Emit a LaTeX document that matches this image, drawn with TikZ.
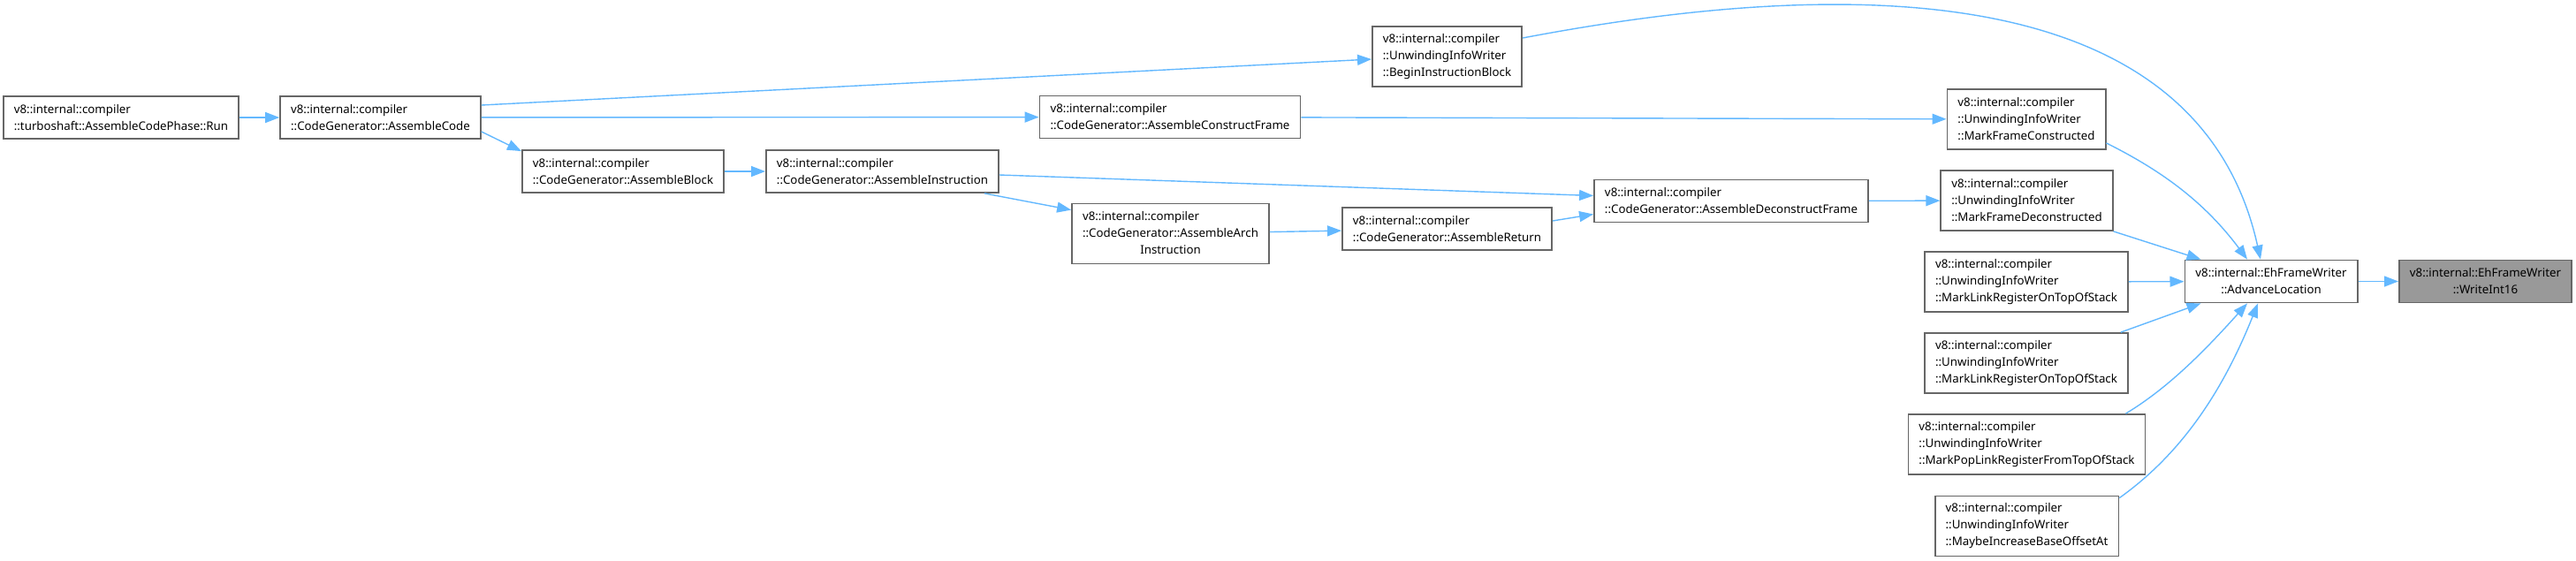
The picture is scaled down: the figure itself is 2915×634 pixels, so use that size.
\documentclass[tikz,border=0pt]{standalone}
\usepackage{fontspec}
\setmainfont{Noto Sans}
\usepackage{tikz}
\usetikzlibrary{arrows.meta, calc}
\definecolor{edgeBlue}{HTML}{63B8FF}
\definecolor{boxGrey}{HTML}{666666}
\definecolor{hiFill}{HTML}{999999}

\begin{document}
\begin{tikzpicture}[
  x=0.5pt, y=-0.5pt,
  fnBox/.style={rectangle, draw=boxGrey, fill=white, line width=0.9pt, font=\fontsize{6.65}{9.5}\selectfont, align=left, inner xsep=6pt, inner ysep=0pt, minimum height=24pt},
  fnBoxTall/.style={fnBox, minimum height=34pt},
  fnBoxHi/.style={fnBox, fill=hiFill, align=center},
  call/.style={draw=edgeBlue, line width=0.7pt, -{Triangle[length=8pt, width=6pt]}}
]
\useasboundingbox (0,0) rectangle (2915,634);
\node[fnBox] (run) at (137,133) {v8::internal::compiler\\::turboshaft::AssembleCodePhase::Run};
\node[fnBox] (code) at (430.5,133) {v8::internal::compiler\\::CodeGenerator::AssembleCode};
\node[fnBox] (block) at (705,194) {v8::internal::compiler\\::CodeGenerator::AssembleBlock};
\node[fnBox] (instr) at (998.5,194) {v8::internal::compiler\\::CodeGenerator::AssembleInstruction};
\node[fnBoxTall] (begin) at (1637.5,64) {v8::internal::compiler\\::UnwindingInfoWriter\\::BeginInstructionBlock};
\node[fnBox] (construct) at (1324,132.5) {v8::internal::compiler\\::CodeGenerator::AssembleConstructFrame};
\node[fnBoxTall] (arch) at (1324.5,264.5) {\begin{tabular}{@{}l@{}}v8::internal::compiler\\::CodeGenerator::AssembleArch\\\multicolumn{1}{@{}c@{}}{Instruction}\end{tabular}};
\node[fnBox] (ret) at (1637.5,259) {v8::internal::compiler\\::CodeGenerator::AssembleReturn};
\node[fnBox] (deconstruct) at (1959,227.5) {v8::internal::compiler\\::CodeGenerator::AssembleDeconstructFrame};
\node[fnBoxTall] (mfc) at (2293,135) {v8::internal::compiler\\::UnwindingInfoWriter\\::MarkFrameConstructed};
\node[fnBoxTall] (mfd) at (2293.5,227) {v8::internal::compiler\\::UnwindingInfoWriter\\::MarkFrameDeconstructed};
\node[fnBoxTall] (mlr1) at (2293,319) {v8::internal::compiler\\::UnwindingInfoWriter\\::MarkLinkRegisterOnTopOfStack};
\node[fnBoxTall] (mlr2) at (2293,411) {v8::internal::compiler\\::UnwindingInfoWriter\\::MarkLinkRegisterOnTopOfStack};
\node[fnBoxTall] (mpl) at (2293.5,503) {v8::internal::compiler\\::UnwindingInfoWriter\\::MarkPopLinkRegisterFromTopOfStack};
\node[fnBoxTall] (mib) at (2293.5,595.5) {v8::internal::compiler\\::UnwindingInfoWriter\\::MaybeIncreaseBaseOffsetAt};
\node[fnBox, align=center] (adv) at (2570,318.5) {v8::internal::EhFrameWriter\\::AdvanceLocation};
\node[fnBoxHi] (write) at (2812.5,318.5) {v8::internal::EhFrameWriter\\::WriteInt16};
\draw[call] (run) -- (code);
\draw[call] ([shift={(0,-14)}]code.east) -- ([shift={(0,3)}]begin.west);
\draw[call] (code) -- (construct);
\draw[call] ([shift={(0,16)}]code.east) -- ([shift={(0,2)}]block.north west);
\draw[call] (block) -- (instr);
\draw[call] ([shift={(0,4)}]instr.east) -- ([shift={(0,-6)}]deconstruct.west);
\draw[call] ([shift={(-17,0)}]instr.south east) -- ([shift={(0,8)}]arch.north west);
\draw[call] (arch) -- (ret);
\draw[call] ([shift={(0,-9)}]ret.east) -- ([shift={(0,15)}]deconstruct.west);
\draw[call] (construct) -- (mfc);
\draw[call] (deconstruct) -- (mfd);
\draw[call] ([shift={(0,-21)}]begin.east) .. controls +(279,-53) and +(-78,-353) .. ([shift={(-12,0)}]adv.north);
\draw[call] ([shift={(0,-8)}]mfc.south east) .. controls +(60,30) and +(-50,-67) .. ([shift={(-27,0)}]adv.north);
\draw[call] (mfd.south east) -- ([shift={(19,0)}]adv.north west);
\draw[call] (mlr1) -- (adv);
\draw[call] ([shift={(-9,0)}]mlr2.north east) -- ([shift={(19,0)}]adv.south west);
\draw[call] ([shift={(-23,0)}]mpl.north east) .. controls +(50,-30) and +(-45,50) .. ([shift={(-27,0)}]adv.south);
\draw[call] ([shift={(0,3)}]mib.north east) .. controls +(70,-50) and +(-40,100) .. ([shift={(-15,0)}]adv.south);
\draw[call] (adv) -- (write);
\end{tikzpicture}
\end{document}
